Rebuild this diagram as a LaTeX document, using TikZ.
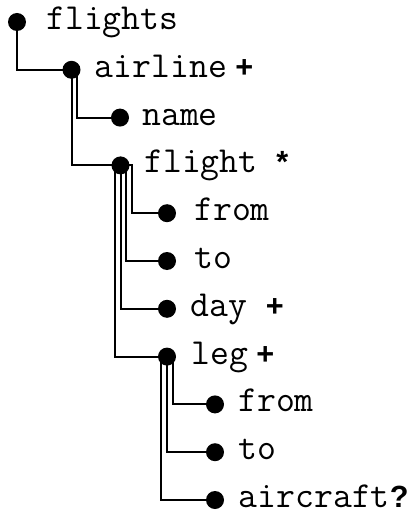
\documentclass[tikz,border=0pt]{standalone}
\usepackage{fontspec}
\newfontfamily\symf{Liberation Sans}
\usetikzlibrary{backgrounds}
\tikzset{
  dotnode/.style={circle,fill=black,inner sep=0pt,minimum size=13.5pt},
  lbl/.style={anchor=base west,inner sep=0pt,font=\fontsize{27.5}{30}\selectfont\ttfamily},
  conn/.style={line width=1.5pt,draw=black}
}
\newcommand{\sym}[1]{{\fontsize{23}{28}\selectfont\symf\bfseries #1}}
\begin{document}
\begin{tikzpicture}[x=0.75pt,y=-0.75pt]
\useasboundingbox (0,0) rectangle (417,513);
% dots
\node[dotnode] (flights) at (17,22) {};
\node[dotnode] (airline) at (71.5,69.8) {};
\node[dotnode] (name) at (120,117.6) {};
\node[dotnode] (flight) at (120.5,165.4) {};
\node[dotnode] (from1) at (167,213.2) {};
\node[dotnode] (to1) at (167,261) {};
\node[dotnode] (day) at (167,308.8) {};
\node[dotnode] (leg) at (167,356.6) {};
\node[dotnode] (from2) at (215,404.4) {};
\node[dotnode] (to2) at (215,452.2) {};
\node[dotnode] (aircraft) at (215,500) {};
% labels
\node[lbl] (tflights) at (46,29.5) {flights};
\node[lbl] (tairline) at (94.5,77.3) {airline\sym{\ +}};
\node[lbl] (tname) at (142,125.1) {name};
\node[lbl] (tflight) at (144,172.9) {flight\ \sym{*}};
\node[lbl] (tfrom1) at (194,220.7) {from};
\node[lbl] (tto1) at (194,268.5) {to};
\node[lbl] (tday) at (190,316.3) {day\ \sym{+}};
\node[lbl] (tleg) at (191,364.1) {leg\sym{\ +}};
\node[lbl] (tfrom2) at (238,411.9) {from};
\node[lbl] (tto2) at (238,459.7) {to};
\node[lbl] (taircraft) at (238.5,507) {aircraft\sym{?}};
% connectors
\begin{scope}[on background layer]
\draw[conn] (flights.center) |- (airline.center);
\draw[conn] (airline.center) -- ++(5.7,0) |- (name.center);
\draw[conn] (airline.center) |- (flight.center);
\draw[conn] (flight.center) -- ++(11.4,0) |- (from1.center);
\draw[conn] (flight.center) -- ++(5.7,0) |- (to1.center);
\draw[conn] (flight.center) |- (day.center);
\draw[conn] (flight.center) -- ++(-5.7,0) |- (leg.center);
\draw[conn] (leg.center) -- ++(5.7,0) |- (from2.center);
\draw[conn] (leg.center) |- (to2.center);
\draw[conn] (leg.center) -- ++(-5.7,0) |- (aircraft.center);
\end{scope}
\end{tikzpicture}
\end{document}
